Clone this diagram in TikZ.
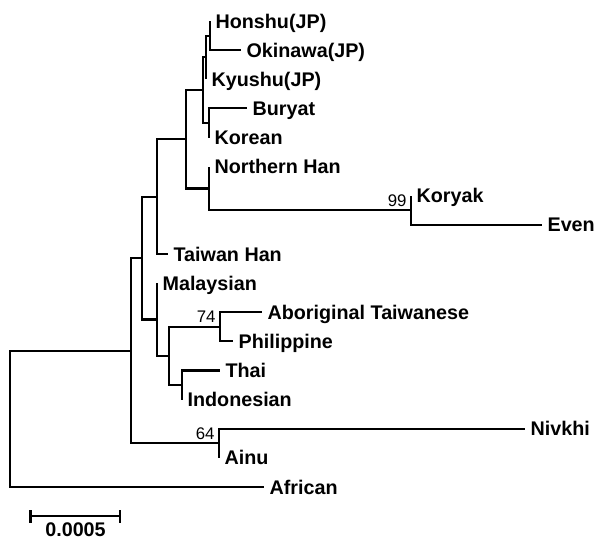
\documentclass[tikz,border=0pt]{standalone}
\usepackage{fontspec}
\setmainfont{Liberation Sans}
\begin{document}
\begin{tikzpicture}[x=0.75pt,y=-0.75pt,
  branch/.style={line width=1.6pt},
  leaf/.style={anchor=base west,inner sep=0pt,xshift=4pt,yshift=-5.3pt,font=\fontsize{14.8}{17}\selectfont\bfseries},
  boot/.style={anchor=base east,inner sep=0pt,xshift=-3.2pt,yshift=3pt,font=\fontsize{12.6}{15}\selectfont}]
\useasboundingbox (0,0) rectangle (595,539);
% internal nodes
\coordinate (root) at (10,418.9);
\coordinate (A) at (131,350.7);
\coordinate (B) at (142,258.1);
\coordinate (D) at (157,196.7);
\coordinate (E) at (186,139.3);
\coordinate (H) at (203,90.2);
\coordinate (F) at (206,57.4);
\coordinate (Q) at (210,35.6);
\coordinate (J) at (209,123);
\coordinate (K) at (209,188.5);
\coordinate (R) at (411,210.3);
\coordinate (L) at (157,319.5);
\coordinate (M) at (169,355.9);
\coordinate (N) at (220,326.8);
\coordinate (O) at (182,385);
\coordinate (P) at (219,443.3);
% leaf tips
\coordinate (tHonshu) at (210,21);
\coordinate (tOkinawa) at (241,50.1);
\coordinate (tKyushu) at (206,79.3);
\coordinate (tBuryat) at (247,108.4);
\coordinate (tKorean) at (209,137.5);
\coordinate (tNHan) at (209,166.6);
\coordinate (tKoryak) at (411,195.8);
\coordinate (tEven) at (542,224.9);
\coordinate (tTaiwan) at (168,254);
\coordinate (tMalay) at (157,283.1);
\coordinate (tAbor) at (262,312.3);
\coordinate (tPhil) at (233,341.4);
\coordinate (tThai) at (220,370.5);
\coordinate (tIndo) at (182,399.6);
\coordinate (tNivkhi) at (525,428.8);
\coordinate (tAinu) at (219,457.9);
\coordinate (tAfrican) at (264,487);
% branches
\draw[branch] (root) |- (A);
\draw[branch] (root) |- (tAfrican);
\draw[branch] (A) |- (B);
\draw[branch] (A) |- (P);
\draw[branch] (B) |- (D);
\draw[branch] (B) |- (L);
\draw[branch] (D) |- (E);
\draw[branch] (D) |- (tTaiwan);
\draw[branch] (E) |- (H);
\draw[branch] (E) |- (K);
\draw[branch] (H) |- (F);
\draw[branch] (H) |- (J);
\draw[branch] (F) |- (Q);
\draw[branch] (F) |- (tKyushu);
\draw[branch] (Q) |- (tHonshu);
\draw[branch] (Q) |- (tOkinawa);
\draw[branch] (J) |- (tBuryat);
\draw[branch] (J) |- (tKorean);
\draw[branch] (K) |- (tNHan);
\draw[branch] (K) |- (R);
\draw[branch] (R) |- (tKoryak);
\draw[branch] (R) |- (tEven);
\draw[branch] (L) |- (tMalay);
\draw[branch] (L) |- (M);
\draw[branch] (M) |- (N);
\draw[branch] (M) |- (O);
\draw[branch] (N) |- (tAbor);
\draw[branch] (N) |- (tPhil);
\draw[branch] (O) |- (tThai);
\draw[branch] (O) |- (tIndo);
\draw[branch] (P) |- (tNivkhi);
\draw[branch] (P) |- (tAinu);
% leaf labels
\node[leaf] (lHonshu) at (tHonshu) {Honshu(JP)};
\node[leaf] (lOkinawa) at (tOkinawa) {Okinawa(JP)};
\node[leaf] (lKyushu) at (tKyushu) {Kyushu(JP)};
\node[leaf] (lBuryat) at (tBuryat) {Buryat};
\node[leaf] (lKorean) at (tKorean) {Korean};
\node[leaf] (lNHan) at (tNHan) {Northern Han};
\node[leaf] (lKoryak) at (tKoryak) {Koryak};
\node[leaf] (lEven) at (tEven) {Even};
\node[leaf] (lTaiwan) at (tTaiwan) {Taiwan Han};
\node[leaf] (lMalay) at (tMalay) {Malaysian};
\node[leaf] (lAbor) at (tAbor) {Aboriginal Taiwanese};
\node[leaf] (lPhil) at (tPhil) {Philippine};
\node[leaf] (lThai) at (tThai) {Thai};
\node[leaf] (lIndo) at (tIndo) {Indonesian};
\node[leaf] (lNivkhi) at (tNivkhi) {Nivkhi};
\node[leaf] (lAinu) at (tAinu) {Ainu};
\node[leaf] (lAfrican) at (tAfrican) {African};
% bootstrap values
\node[boot] (b99) at (R) {99};
\node[boot] (b74) at (N) {74};
\node[boot] (b64) at (P) {64};
% scale bar
\coordinate (sbL) at (30.5,516);
\coordinate (sbR) at (120,516);
\draw[branch] (sbL) -- (sbR);
\draw[branch] ([yshift=4.5pt]sbL) -- ([yshift=-5pt]sbL);
\draw[branch] ([yshift=4.5pt]sbR) -- ([yshift=-5pt]sbR);
\node[anchor=base,inner sep=0pt,font=\fontsize{14.8}{17}\selectfont\bfseries] (sblabel) at (75.5,536.2) {0.0005};
\end{tikzpicture}
\end{document}
